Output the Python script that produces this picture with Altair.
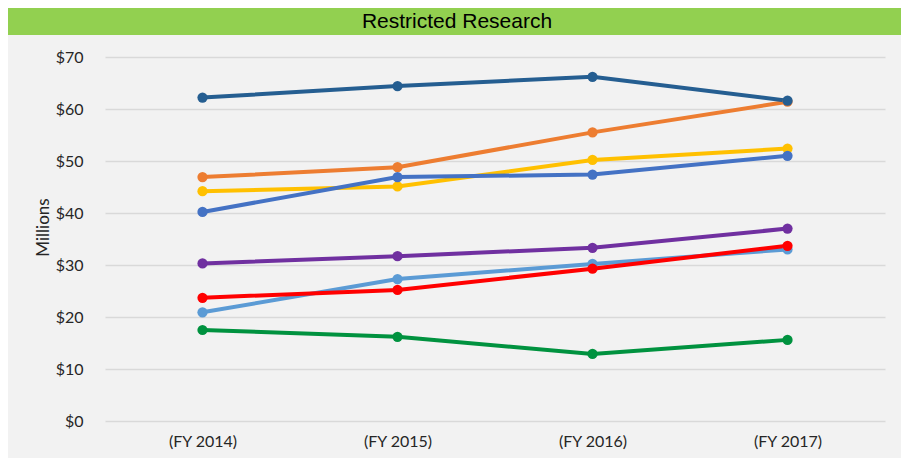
import altair as alt
import pandas as pd

years = ["(FY 2014)", "(FY 2015)", "(FY 2016)", "(FY 2017)"]

series_names = ["Series A", "Series B", "Series C", "Series D",
                "Series E", "Series F", "Series G", "Series H"]
series_colors = ["#ED7D31", "#255E91", "#FFC000", "#4472C4",
                 "#7030A0", "#5B9BD5", "#FF0000", "#00923F"]

orange = [46.9, 48.8, 55.5, 61.4]
dark_blue = [62.2, 64.4, 66.2, 61.6]
yellow = [44.2, 45.1, 50.2, 52.4]
blue = [40.2, 46.9, 47.4, 51.0]
purple = [30.3, 31.7, 33.3, 37.0]
light_blue = [20.9, 27.3, 30.2, 33.0]
red = [23.7, 25.2, 29.3, 33.7]
green = [17.5, 16.2, 12.9, 15.6]

all_values = [orange, dark_blue, yellow, blue, purple, light_blue, red, green]

rows = []
for name, vals in zip(series_names, all_values):
    for yr, v in zip(years, vals):
        rows.append({"series": name, "year": yr, "value": v})
df = pd.DataFrame(rows)

title_text = "Restricted Research"

x_enc = alt.X("year:N", sort=years, title=None,
              scale=alt.Scale(type="point", padding=0.5),
              axis=alt.Axis(labelAngle=0, ticks=False, tickSize=0, domain=False,
                            labelFont="Lato", labelFontSize=16, labelColor="#262626",
                            labelPadding=12, grid=False))
y_enc = alt.Y("value:Q", title="Millions",
              scale=alt.Scale(domain=[0, 70], nice=False),
              axis=alt.Axis(values=[0, 10, 20, 30, 40, 50, 60, 70], format="$,.0f",
                            ticks=False, tickSize=0, domain=False,
                            labelFont="Lato", labelFontSize=16, labelColor="#262626",
                            labelPadding=22, gridColor="#d9d9d9", gridWidth=1.5,
                            titleFont="Lato", titleFontSize=17, titleFontWeight="normal",
                            titleColor="#262626", titleX=-53, titleY=170))
color_enc = alt.Color("series:N", scale=alt.Scale(domain=series_names, range=series_colors),
                      legend=None)

base = alt.Chart(df)
lines = base.mark_line(strokeWidth=4).encode(x=x_enc, y=y_enc, color=color_enc, order=alt.Order("year:N"))
points = base.mark_point(filled=True, size=105, opacity=1).encode(x=x_enc, y=y_enc, color=color_enc)

band_df = pd.DataFrame({"t": [title_text]})
band = alt.Chart(band_df).mark_rect(color="#92D050").encode(
    x=alt.value(-97), x2=alt.value(796), y=alt.value(-49), y2=alt.value(-22))
title = alt.Chart(band_df).mark_text(font="Liberation Sans", fontSize=21, color="#000000",
                                     baseline="middle", align="center").encode(
    text="t:N", x=alt.value(352), y=alt.value(-35))

chart = alt.layer(band, title, lines, points).properties(
    width=780, height=364,
    autosize=alt.AutoSizeParams(type="none"),
    padding={"left": 97, "top": 49, "right": 16, "bottom": 37},
    background="#f2f2f2",
).configure_view(stroke=None)

chart.save("out.html", embed_options={"renderer": "svg", "actions": False})
